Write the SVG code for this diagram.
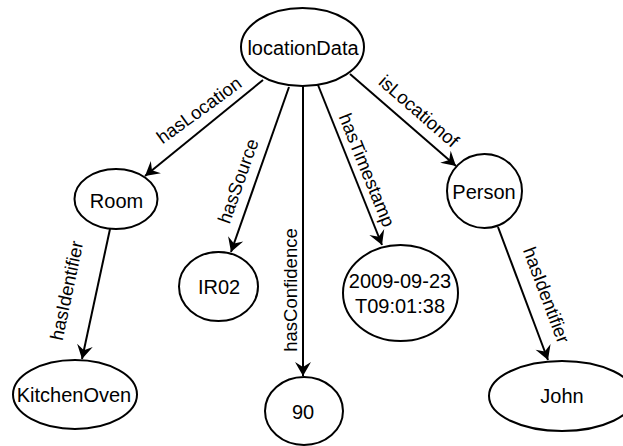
<svg xmlns="http://www.w3.org/2000/svg" width="623" height="446" viewBox="0 0 623 446">
<style>
.node ellipse{fill:#fff;stroke:#000;stroke-width:2}
.node text{font-family:"Liberation Sans",Arial,sans-serif;font-size:20px;fill:#000;text-anchor:middle}
.edge line{stroke:#000;stroke-width:2;fill:none}
.lbl{font-family:"Liberation Sans",Arial,sans-serif;font-size:18.5px;fill:#000;text-anchor:middle;dominant-baseline:central}
</style>
<defs>
<marker id="arr" markerUnits="userSpaceOnUse" markerWidth="20" markerHeight="20" viewBox="-15 -10 20 20" refX="0" refY="0" orient="auto">
<path d="M0,0 L-14,-8 L-9,0 L-14,8 Z" fill="#000"/>
</marker>
</defs>
<rect width="623" height="446" fill="#fff"/>
<g id="connectors" class="edge">
<line x1="263" y1="80" x2="145" y2="176" marker-end="url(#arr)"/>
<line x1="289" y1="87" x2="231" y2="252" marker-end="url(#arr)"/>
<line x1="303" y1="86" x2="303" y2="376" marker-end="url(#arr)"/>
<line x1="318" y1="85" x2="382" y2="245" marker-end="url(#arr)"/>
<line x1="350" y1="74" x2="456" y2="166" marker-end="url(#arr)"/>
<line x1="110" y1="229" x2="82" y2="359" marker-end="url(#arr)"/>
<line x1="498" y1="227" x2="548" y2="360" marker-end="url(#arr)"/>
<text class="lbl" transform="translate(199,110) rotate(-36)">hasLocation</text>
<text class="lbl" transform="translate(238,181) rotate(-70.6)">hasSource</text>
<text class="lbl" transform="translate(290.5,290) rotate(-90)">hasConfidence</text>
<text class="lbl" transform="translate(367,170) rotate(68)">hasTimestamp</text>
<text class="lbl" transform="translate(419,111) rotate(41)">isLocationof</text>
<text class="lbl" transform="translate(66.5,290.5) rotate(-78)">hasIdentifier</text>
<text class="lbl" transform="translate(546.5,295) rotate(69.4)">hasIdentifier</text>
</g>
<g id="locationData" class="node"><ellipse cx="302.5" cy="47" rx="61.5" ry="39"/><text x="303" y="55">locationData</text></g>
<g id="Room" class="node"><ellipse cx="116" cy="199" rx="41.5" ry="30"/><text x="116.5" y="208">Room</text></g>
<g id="IR02" class="node"><ellipse cx="218.5" cy="286.5" rx="39.5" ry="34.5"/><text x="219" y="294">IR02</text></g>
<g id="KitchenOven" class="node"><ellipse cx="75" cy="394.5" rx="62" ry="34.5"/><text x="74" y="401.5">KitchenOven</text></g>
<g id="n90" class="node"><ellipse cx="304" cy="411" rx="39" ry="34"/><text x="303" y="419">90</text></g>
<g id="timestamp" class="node"><ellipse cx="400.5" cy="293" rx="57.5" ry="48"/><text x="400" y="288">2009-09-23</text><text x="400" y="313">T09:01:38</text></g>
<g id="Person" class="node"><ellipse cx="484.5" cy="191" rx="37.5" ry="37"/><text x="484" y="199">Person</text></g>
<g id="John" class="node"><ellipse cx="562" cy="396" rx="73" ry="35"/><text x="562" y="403">John</text></g>
</svg>
